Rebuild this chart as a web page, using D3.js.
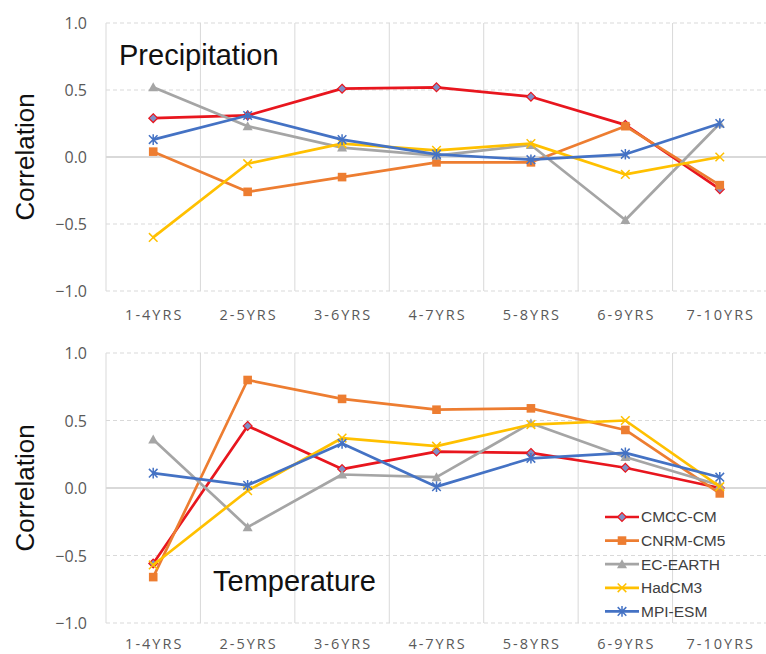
<!DOCTYPE html>
<html>
<head>
<meta charset="utf-8">
<script src="https://cdn.jsdelivr.net/npm/d3@7"></script>
<style>
  html, body { margin: 0; padding: 0; background: #fff; }
  svg { display: block; }
</style>
</head>
<body>
<svg id="chart" width="766" height="654"></svg>
<script>
// Lead-time windows on the x axis
const categories = ["1-4YRS", "2-5YRS", "3-6YRS", "4-7YRS", "5-8YRS", "6-9YRS", "7-10YRS"];
const models = ["CMCC-CM", "CNRM-CM5", "EC-EARTH", "HadCM3", "MPI-ESM"];
const yTicks = [1.0, 0.5, 0.0, -0.5, -1.0];

// Correlation skill for precipitation, per model
const precipCMCC = [0.29, 0.31, 0.51, 0.52, 0.45, 0.24, -0.24];
const precipCNRM = [0.04, -0.26, -0.15, -0.04, -0.04, 0.23, -0.21];
const precipEC   = [0.52, 0.23, 0.07, 0.01, 0.09, -0.47, 0.25];
const precipHad  = [-0.60, -0.05, 0.10, 0.05, 0.10, -0.13, 0.00];
const precipMPI  = [0.13, 0.31, 0.13, 0.02, -0.02, 0.02, 0.25];

// Correlation skill for temperature, per model
const tempCMCC = [-0.56, 0.46, 0.14, 0.27, 0.26, 0.15, 0.00];
const tempCNRM = [-0.66, 0.80, 0.66, 0.58, 0.59, 0.43, -0.04];
const tempEC   = [0.36, -0.29, 0.10, 0.08, 0.48, 0.23, 0.02];
const tempHad  = [-0.57, -0.02, 0.37, 0.31, 0.47, 0.50, 0.01];
const tempMPI  = [0.11, 0.02, 0.33, 0.01, 0.22, 0.26, 0.08];

const colors = {
  "CMCC-CM": "#e8161e",
  "CNRM-CM5": "#ed7d31",
  "EC-EARTH": "#a5a5a5",
  "HadCM3": "#ffc000",
  "MPI-ESM": "#4472c4"
};
const markerKind = {
  "CMCC-CM": "diamond",
  "CNRM-CM5": "square",
  "EC-EARTH": "triangle",
  "HadCM3": "cross",
  "MPI-ESM": "star"
};

const svg = d3.select("#chart");
const gridColor = "#d9d9d9";
const tickColor = "#595959";

const x = d3.scaleBand().domain(categories).range([106, 767]).padding(0);

function drawMarker(g, kind, cx, cy, color) {
  if (kind === "diamond") {
    const s = 4.4;
    g.append("path")
      .attr("d", `M${cx},${cy - s}L${cx + s},${cy}L${cx},${cy + s}L${cx - s},${cy}Z`)
      .attr("fill", "#7f8fc6").attr("stroke", color).attr("stroke-width", 1.2);
  } else if (kind === "square") {
    const s = 4.3;
    g.append("rect").attr("x", cx - s).attr("y", cy - s)
      .attr("width", 2 * s).attr("height", 2 * s).attr("fill", color);
  } else if (kind === "triangle") {
    const s = 5;
    g.append("path")
      .attr("d", `M${cx},${cy - s}L${cx + s},${cy + s * 0.8}L${cx - s},${cy + s * 0.8}Z`)
      .attr("fill", color);
  } else if (kind === "cross") {
    const s = 4.3;
    g.append("path")
      .attr("d", `M${cx - s},${cy - s}L${cx + s},${cy + s}M${cx - s},${cy + s}L${cx + s},${cy - s}`)
      .attr("stroke", color).attr("stroke-width", 1.5).attr("fill", "none");
  } else if (kind === "star") {
    const s = 4.3;
    g.append("path")
      .attr("d", `M${cx - s},${cy - s}L${cx + s},${cy + s}M${cx - s},${cy + s}L${cx + s},${cy - s}M${cx},${cy - s - 1}L${cx},${cy + s + 1}`)
      .attr("stroke", color).attr("stroke-width", 1.5).attr("fill", "none");
  }
}

function panel(top, bottom, seriesList, title, titlePos, labelBaseline) {
  const y = d3.scaleLinear().domain([-1, 1]).range([bottom, top]);
  const g = svg.append("g");

  // vertical grid lines at category boundaries
  const bounds = categories.map(c => x(c)).concat([x.range()[1]]);
  g.selectAll(".vgrid").data(bounds).join("line")
    .attr("x1", d => d).attr("x2", d => d)
    .attr("y1", y(1)).attr("y2", y(-1))
    .attr("stroke", gridColor).attr("stroke-width", 1);

  // horizontal grid lines: dashed, with a solid zero line
  g.selectAll(".hgrid").data(yTicks).join("line")
    .attr("x1", x.range()[0]).attr("x2", x.range()[1])
    .attr("y1", d => y(d)).attr("y2", d => y(d))
    .attr("stroke", gridColor)
    .attr("stroke-width", d => d === 0 ? 2 : 1.2)
    .attr("stroke-dasharray", d => d === 0 ? null : "4,3");

  // y axis tick labels
  const yAxis = d3.axisLeft(y).tickValues(yTicks).tickFormat(d3.format(".1f")).tickSize(0).tickPadding(0);
  const ya = g.append("g").attr("transform", "translate(87,0)").call(yAxis);
  ya.select(".domain").remove();
  ya.selectAll("text")
    .attr("fill", tickColor)
    .style("font-family", "'Open Sans', sans-serif")
    .style("font-size", "16px")
    .attr("dy", "0.35em");

  // x axis tick labels
  const xAxis = d3.axisBottom(x).tickSize(0).tickPadding(0);
  const xa = g.append("g").attr("transform", `translate(0,${labelBaseline})`).call(xAxis);
  xa.select(".domain").remove();
  xa.selectAll("text")
    .attr("fill", tickColor)
    .attr("dy", 0).attr("y", 0)
    .attr("dx", "1px")
    .style("font-family", "'Open Sans', sans-serif")
    .style("font-size", "14.5px")
    .style("font-weight", "500")
    .style("letter-spacing", "2px");

  // axis title
  g.append("text")
    .attr("transform", `translate(34,${y(0)}) rotate(-90)`)
    .attr("text-anchor", "middle")
    .attr("fill", "#111")
    .style("font-family", "'Liberation Sans', Arial, sans-serif")
    .style("font-size", "26px")
    .text("Correlation");

  // panel title
  g.append("text")
    .attr("x", titlePos[0]).attr("y", titlePos[1])
    .attr("fill", "#111")
    .style("font-family", "'Liberation Sans', Arial, sans-serif")
    .style("font-size", "29px")
    .text(title);

  const line = d3.line()
    .x((d, i) => x(categories[i]) + x.bandwidth() / 2)
    .y(d => y(d));

  seriesList.forEach(s => {
    const col = colors[s.name];
    g.append("path").datum(s.values)
      .attr("d", line)
      .attr("fill", "none")
      .attr("stroke", col)
      .attr("stroke-width", 2.7)
      .attr("stroke-linejoin", "round");
    const mg = g.append("g");
    s.values.forEach((v, i) => {
      drawMarker(mg, markerKind[s.name], x(categories[i]) + x.bandwidth() / 2, y(v), col);
    });
  });
  return y;
}

panel(23, 291, [
  { name: "CMCC-CM", values: precipCMCC },
  { name: "CNRM-CM5", values: precipCNRM },
  { name: "EC-EARTH", values: precipEC },
  { name: "HadCM3", values: precipHad },
  { name: "MPI-ESM", values: precipMPI }
], "Precipitation", [119, 65], 320);

panel(353, 623, [
  { name: "CMCC-CM", values: tempCMCC },
  { name: "CNRM-CM5", values: tempCNRM },
  { name: "EC-EARTH", values: tempEC },
  { name: "HadCM3", values: tempHad },
  { name: "MPI-ESM", values: tempMPI }
], "Temperature", [213, 591], 649);

// legend
const legend = svg.append("g").attr("transform", "translate(605,517)");
models.forEach((m, i) => {
  const row = legend.append("g").attr("transform", `translate(0,${i * 23.6})`);
  row.append("line").attr("x1", 0).attr("x2", 34).attr("y1", 0).attr("y2", 0)
    .attr("stroke", colors[m]).attr("stroke-width", 2.7);
  drawMarker(row, markerKind[m], 17, 0, colors[m]);
  row.append("text").attr("x", 36).attr("y", 0).attr("dy", "0.35em")
    .attr("fill", "#404040")
    .style("font-family", "'Liberation Sans', Arial, sans-serif")
    .style("font-size", "15.5px")
    .text(m);
});
</script>
</body>
</html>
